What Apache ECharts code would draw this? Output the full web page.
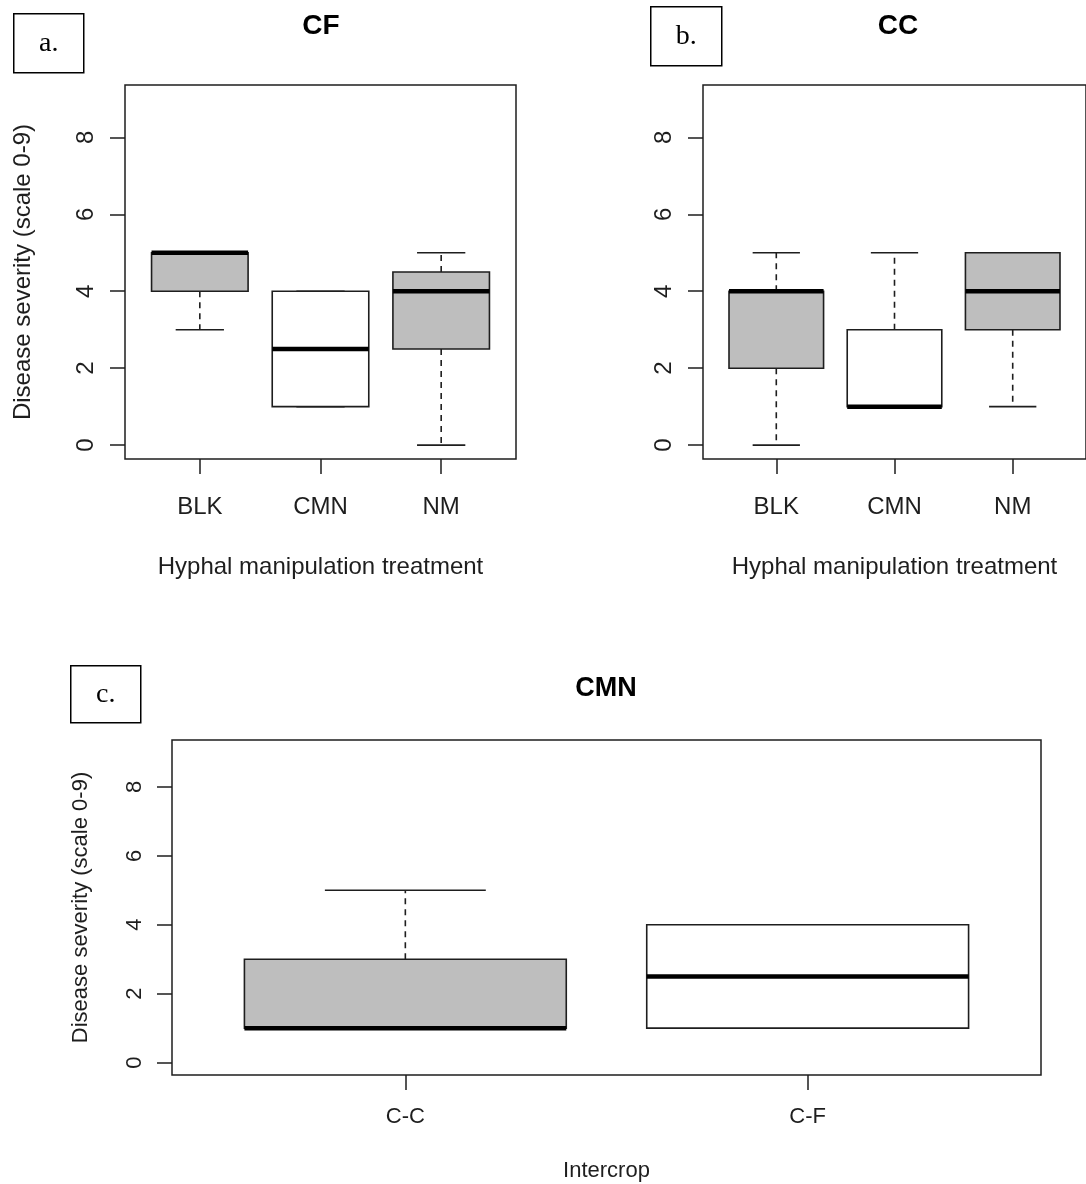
<!DOCTYPE html>
<html>
<head>
<meta charset="utf-8">
<script src="https://cdn.jsdelivr.net/npm/echarts@6/dist/echarts.min.js"></script>
<style>
html,body{margin:0;padding:0;background:#fff;}
#chart{width:1086px;height:1184px;}
</style>
</head>
<body>
<div id="chart"></div>
<script>
// ---- data (min, Q1, median, Q3, max) ----
const treatmentCategories = ['BLK', 'CMN', 'NM'];
const cfStats = [[3, 4, 5, 5, 5], [1, 1, 2.5, 4, 4], [0, 2.5, 4, 4.5, 5]];
const ccStats = [[0, 2, 4, 4, 5], [1, 1, 1, 3, 5], [1, 3, 4, 5, 5]];
const intercropCategories = ['C-C', 'C-F'];
const cmnStats = [[1, 1, 1, 3, 5], [1, 1, 2.5, 4, 4]];
const yTickValues = [0, 2, 4, 6, 8];
const panelTitles = ['CF', 'CC', 'CMN'];
const panelLetters = ['a.', 'b.', 'c.'];
const yAxisTitle = 'Disease severity (scale 0-9)';
const xAxisTitles = ['Hyphal manipulation treatment', 'Hyphal manipulation treatment', 'Intercrop'];

// ---- styling ----
const FONT = "'Liberation Sans', Arial, sans-serif";
const INK = '#1e1e1e';
const GRAY = '#bebebe';
const whiteBoxes = { 'CMN': true, 'C-F': true };

function toSeriesData(stats) {
  return stats.map((s, i) => [i + 1].concat(s));
}

function makeRender(categories) {
  return function (params, api) {
    const idx = api.value(0);
    const mn = api.value(1), q1 = api.value(2), md = api.value(3), q3 = api.value(4), mx = api.value(5);
    const unit = api.size([1, 0])[0];
    const half = unit * 0.4, sh = unit * 0.2;
    const cx = api.coord([idx, md])[0];
    const y = v => api.coord([idx, v])[1];
    const fill = whiteBoxes[categories[idx - 1]] ? '#ffffff' : GRAY;
    const lineStyle = { stroke: INK, lineWidth: 1.6 };
    const children = [];
    if (mx > q3) children.push({ type: 'line', shape: { x1: cx, y1: y(q3), x2: cx, y2: y(mx) }, style: Object.assign({ lineDash: [6, 5] }, lineStyle) });
    if (mn < q1) children.push({ type: 'line', shape: { x1: cx, y1: y(q1), x2: cx, y2: y(mn) }, style: Object.assign({ lineDash: [6, 5] }, lineStyle) });
    children.push({ type: 'line', shape: { x1: cx - sh, y1: y(mx), x2: cx + sh, y2: y(mx) }, style: lineStyle });
    children.push({ type: 'line', shape: { x1: cx - sh, y1: y(mn), x2: cx + sh, y2: y(mn) }, style: lineStyle });
    children.push({ type: 'rect', shape: { x: cx - half, y: y(q3), width: 2 * half, height: y(q1) - y(q3) }, style: { fill: fill, stroke: INK, lineWidth: 1.6 } });
    children.push({ type: 'line', shape: { x1: cx - half, y1: y(md), x2: cx + half, y2: y(md) }, style: { stroke: '#000', lineWidth: 4.5 } });
    return { type: 'group', children: children };
  };
}

function xAxisFor(gridIndex, categories, fontSize, margin, name, nameGap) {
  const n = categories.length;
  const ext = n * 0.04;
  const ticks = categories.map((c, i) => i + 1);
  return {
    type: 'value', gridIndex: gridIndex, position: 'bottom',
    min: 0.5 - ext, max: n + 0.5 + ext,
    splitLine: { show: false },
    axisLine: { show: false, onZero: false },
    axisTick: { show: true, inside: false, length: 15, customValues: ticks, lineStyle: { color: INK, width: 1.5 } },
    axisLabel: { customValues: ticks, formatter: v => categories[Math.round(v) - 1] || '', fontSize: fontSize, fontFamily: FONT, color: INK, margin: margin },
    name: name, nameLocation: 'middle', nameGap: nameGap,
    nameTextStyle: { fontSize: fontSize, fontFamily: FONT, color: INK }
  };
}

function yAxisFor(gridIndex, fontSize, margin, name, nameGap) {
  return {
    type: 'value', gridIndex: gridIndex, position: 'left',
    min: -0.36, max: 9.36,
    splitLine: { show: false },
    axisLine: { show: false, onZero: false },
    axisTick: { show: true, inside: false, length: 15, customValues: yTickValues, lineStyle: { color: INK, width: 1.5 } },
    axisLabel: { customValues: yTickValues, rotate: 90, fontSize: fontSize, fontFamily: FONT, color: INK, margin: margin },
    name: name, nameLocation: 'middle', nameGap: nameGap, nameRotate: 90,
    nameTextStyle: { fontSize: fontSize, fontFamily: FONT, color: INK }
  };
}

function letterBox(x, y, w, h, text) {
  return {
    type: 'group', left: x, top: y,
    children: [
      { type: 'rect', shape: { x: 0, y: 0, width: w, height: h }, style: { fill: '#fff', stroke: '#000', lineWidth: 1.5 } },
      { type: 'text', x: w / 2, y: h / 2, style: { text: text, font: "28px 'Liberation Serif', 'Times New Roman', serif", fill: '#000', align: 'center', verticalAlign: 'middle' } }
    ]
  };
}

const chart = echarts.init(document.getElementById('chart'), null, { renderer: 'canvas' });
const gridStyle = { show: true, borderColor: INK, borderWidth: 1.5, backgroundColor: 'transparent' };
const titleStyle = (size) => ({ fontSize: size, fontWeight: 'bold', fontFamily: FONT, color: '#000' });

chart.setOption({
  animation: false,
  backgroundColor: '#fff',
  title: [
    { text: panelTitles[0], left: 321, top: 12, padding: 0, textAlign: 'center', textStyle: titleStyle(28) },
    { text: panelTitles[1], left: 898, top: 12, padding: 0, textAlign: 'center', textStyle: titleStyle(28) },
    { text: panelTitles[2], left: 606, top: 675, padding: 0, textAlign: 'center', textStyle: titleStyle(27) }
  ],
  grid: [
    Object.assign({ left: 125, top: 85, width: 391, height: 374 }, gridStyle),
    Object.assign({ left: 703, top: 85, width: 391, height: 374 }, gridStyle),
    Object.assign({ left: 172, top: 740, width: 869, height: 335 }, gridStyle)
  ],
  xAxis: [
    xAxisFor(0, treatmentCategories, 24, 36, xAxisTitles[0], 96),
    xAxisFor(1, treatmentCategories, 24, 36, xAxisTitles[1], 96),
    xAxisFor(2, intercropCategories, 22, 31, xAxisTitles[2], 85)
  ],
  yAxis: [
    yAxisFor(0, 24, 27, yAxisTitle, 90),
    yAxisFor(1, 24, 27, '', 90),
    yAxisFor(2, 22, 26, yAxisTitle, 80)
  ],
  series: [
    { type: 'custom', xAxisIndex: 0, yAxisIndex: 0, renderItem: makeRender(treatmentCategories), data: toSeriesData(cfStats), encode: { x: 0, y: [1, 2, 3, 4, 5] }, clip: false },
    { type: 'custom', xAxisIndex: 1, yAxisIndex: 1, renderItem: makeRender(treatmentCategories), data: toSeriesData(ccStats), encode: { x: 0, y: [1, 2, 3, 4, 5] }, clip: false },
    { type: 'custom', xAxisIndex: 2, yAxisIndex: 2, renderItem: makeRender(intercropCategories), data: toSeriesData(cmnStats), encode: { x: 0, y: [1, 2, 3, 4, 5] }, clip: false }
  ],
  graphic: [
    letterBox(13, 13, 70, 59, panelLetters[0]),
    letterBox(650, 6, 71, 59, panelLetters[1]),
    letterBox(70, 665, 70, 57, panelLetters[2])
  ]
});
</script>
</body>
</html>
